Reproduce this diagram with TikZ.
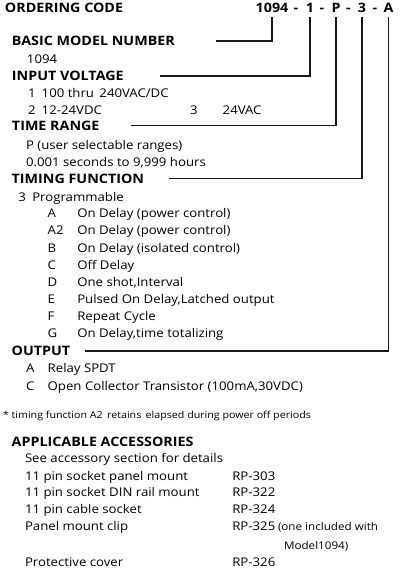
\documentclass[tikz,border=0pt]{standalone}
\usepackage{fontspec}
\setmainfont{Open Sans}[FakeStretch=1.1]
\usetikzlibrary{calc}
\begin{document}
\begin{tikzpicture}[x=1pt,y=-1pt,
  every node/.style={inner sep=0pt,outer sep=0pt,anchor=base west,text=black},
  txt/.style={font=\fontsize{12}{14}\selectfont},
  hd/.style={font=\bfseries\fontsize{13}{14}\selectfont},
  small/.style={font=\fontsize{9.7}{11}\selectfont},
  note/.style={font=\fontsize{10.6}{12}\selectfont},
  code/.style={font=\bfseries\fontsize{13}{14}\selectfont,anchor=base},
  conn/.style={line width=1.6pt,draw=black!90}]
\useasboundingbox (0,0) rectangle (415,576);
% ordering code
\node[hd] (hord) at (5,12.3) {ORDERING CODE};
\node[code] (c1094) at (272,12.3) {1094};
\node[code] (d1) at (296,12.3) {-};
\node[code] (c1) at (310,12.3) {1};
\node[code] (d2) at (322,12.3) {-};
\node[code] (cP) at (336,12.3) {P};
\node[code] (d3) at (348.5,12.3) {-};
\node[code] (c3) at (362,12.3) {3};
\node[code] (d4) at (375,12.3) {-};
\node[code] (cA) at (388.5,12.3) {A};
% basic
\node[hd] (hbasic) at (12,45.7) {BASIC MODEL NUMBER};
\node[txt] (t1094) at (27,63) {1094};
% input
\node[hd] (hinput) at (12,80.7) {INPUT VOLTAGE};
\node[txt] (iv1n) at (28,97) {1};
\node[txt] (iv1) at (41.7,97) {100 thru\, 240VAC/DC};
\node[txt] (iv2n) at (28,114.7) {2};
\node[txt] (iv2) at (41.7,114.7) {12-24VDC};
\node[txt] (iv3n) at (190,114.7) {3};
\node[txt] (iv3) at (222.7,114.7) {24VAC};
% time range
\node[hd] (htime) at (12,130) {TIME RANGE};
\node[txt] (tr1) at (26,149.3) {P (user selectable ranges)};
\node[txt] (tr2) at (26,166) {0.001 seconds to 9,999 hours};
% timing function
\node[hd] (htf) at (11.7,183.3) {TIMING FUNCTION};
\node[txt] (tf3) at (18.3,201) {3};
\node[txt] (tfp) at (32.3,201) {Programmable};
\foreach \l/\t [count=\i from 0] in {A/On Delay (power control),A2/On Delay (power control),B/On Delay (isolated control),C/Off Delay,D/{One shot,Interval},E/{Pulsed On Delay,Latched output},F/Repeat Cycle,G/{On Delay,time totalizing}}{
  \node[txt] (fl\i) at (47.7,217.7+17.15*\i) {\l};
  \node[txt] (ft\i) at (77.3,217.7+17.15*\i) {\t};
}
% output
\node[hd] (hout) at (11.7,355.7) {OUTPUT};
\node[txt] (oA) at (26,372.3) {A};
\node[txt] (oAt) at (47.7,372.3) {Relay SPDT};
\node[txt] (oC) at (26,390) {C};
\node[txt] (oCt) at (47.7,390) {Open Collector Transistor (100mA,30VDC)};
% footnote
\node[small] (fn) at (3,418.3) {* timing function A2\, retains\, elapsed during power off periods};
% accessories
\node[hd] (hacc) at (11.7,446.7) {APPLICABLE ACCESSORIES};
\node[txt] (a0) at (25,462.7) {See accessory section for details};
\node[txt] (a1) at (25,480) {11 pin socket panel mount};
\node[txt] (r1) at (232.3,480) {RP-303};
\node[txt] (a2) at (25,496.7) {11 pin socket DIN rail mount};
\node[txt] (r2) at (232.3,496.7) {RP-322};
\node[txt] (a3) at (25,513.3) {11 pin cable socket};
\node[txt] (r3) at (232.3,513.3) {RP-324};
\node[txt] (a4) at (25,530) {Panel mount clip};
\node[txt] (r4) at (232.3,530) {RP-325};
\node[note] (r4n) at (278,530) {(one included with};
\node[note] (r4m) at (284,549.3) {Model1094)};
\node[txt] (a5) at (25,566.7) {Protective cover};
\node[txt] (r5) at (232.3,566.7) {RP-326};
% connectors
\draw[conn] ([yshift=-4.5pt]c1094.south) |- ([xshift=41.3pt]hbasic.east);
\draw[conn] ([yshift=-4.5pt]c1.south) |- ([xshift=36pt]hinput.east);
\draw[conn] ([yshift=-4.5pt]cP.south) |- ([xshift=31pt]htime.east);
\draw[conn] ([yshift=-4.5pt]c3.south) |- ([xshift=25pt]htf.east);
\draw[conn] ([yshift=-4.5pt]cA.south) |- ([xshift=15pt]hout.east);
\end{tikzpicture}
\end{document}
